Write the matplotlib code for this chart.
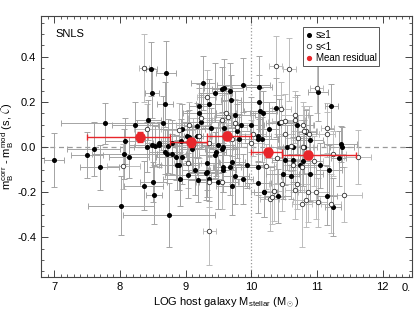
import matplotlib
matplotlib.use("Agg")
import matplotlib.pyplot as plt
from matplotlib.ticker import MultipleLocator

plt.rcParams['font.family'] = ['Liberation Sans', 'DejaVu Sans']
plt.rcParams['mathtext.fontset'] = 'custom'
plt.rcParams['mathtext.rm'] = 'Liberation Sans'
plt.rcParams['mathtext.it'] = 'Liberation Sans:italic'

# s >= 1 (filled)
hi_x = [8.48, 8.49, 8.70, 8.69, 7.78, 8.23, 8.43, 8.08, 7.60, 7.50,
        7.00, 8.07, 8.14, 8.49, 8.66, 8.59, 9.27, 9.21, 9.21, 9.36,
        9.58, 9.56, 9.68, 9.45, 9.88, 10.12, 9.69, 10.12, 10.37, 10.18,
        11.02, 11.22, 11.36, 11.38, 11.33, 9.76, 9.84, 10.00, 10.14, 9.23,
        9.17, 8.95, 9.38, 9.58, 9.50, 9.57, 8.80, 8.73, 8.53, 9.02,
        9.17, 9.05, 8.93, 10.10, 10.16, 10.27, 10.43, 10.70, 10.84, 10.90,
        10.55, 9.78, 10.11, 9.81, 7.69, 8.36, 8.51, 8.52, 8.02, 8.75,
        8.90, 8.91, 9.03, 9.14, 9.19, 9.31, 9.35, 10.10, 10.20, 10.41,
        10.60, 10.48, 10.90, 11.04, 11.18, 9.71, 9.76, 9.88, 9.50, 9.57,
        9.33, 9.93, 11.15, 11.25, 8.69, 8.72, 8.80, 8.85, 8.42, 8.59,
        9.32, 9.45, 9.46, 9.56, 9.68, 9.57, 9.71, 10.10, 10.52, 10.63,
        10.75, 10.79, 10.63, 10.80, 8.87, 9.10, 8.95, 10.19]
hi_y = [0.345, 0.24, 0.33, 0.19, 0.105, 0.10, 0.12, 0.027, -0.01, -0.035,
        -0.057, -0.03, -0.045, 0.01, 0.105, 0.017, 0.285, 0.15, 0.18, 0.19,
        0.26, 0.255, 0.25, 0.24, 0.275, 0.265, 0.21, 0.20, 0.175, 0.15,
        0.245, 0.18, 0.012, 0.0, -0.05, 0.14, 0.10, 0.10, 0.16, 0.11,
        0.095, 0.08, 0.085, 0.085, 0.01, 0.0, 0.02, 0.005, 0.005, 0.05,
        0.05, 0.045, 0.025, 0.05, 0.035, 0.08, 0.105, 0.10, 0.065, 0.03,
        0.0, 0.07, 0.035, 0.035, -0.09, -0.17, -0.155, -0.21, -0.26, -0.30,
        -0.08, -0.14, -0.125, -0.10, -0.145, -0.115, -0.14, -0.16, -0.20, -0.215,
        -0.13, -0.12, -0.12, -0.08, -0.10, -0.17, -0.13, -0.14, -0.155, -0.10,
        -0.11, -0.08, -0.215, -0.265, -0.02, -0.03, -0.03, -0.045, 0.0, 0.01,
        -0.07, -0.035, -0.02, -0.01, -0.09, -0.09, -0.065, -0.09, -0.057, -0.055,
        -0.08, -0.06, 0.0, 0.0, -0.08, -0.01, -0.045, -0.20]
hi_xerr = [0.08, 0.10, 0.15, 0.12, 0.68, 0.35, 0.20, 0.30, 0.40, 0.25,
           0.15, 0.50, 0.30, 0.35, 0.40, 0.20, 0.18, 0.25, 0.15, 0.20,
           0.30, 0.15, 0.20, 0.25, 0.40, 0.20, 0.15, 0.25, 0.10, 0.20,
           0.15, 0.10, 0.25, 0.18, 0.12, 0.30, 0.15, 0.20, 0.25, 0.30,
           0.20, 0.35, 0.15, 0.20, 0.25, 0.15, 0.30, 0.20, 0.15, 0.25,
           0.20, 0.15, 0.30, 0.20, 0.25, 0.15, 0.20, 0.25, 0.15, 0.20,
           0.25, 0.20, 0.30, 0.15, 0.30, 0.30, 0.20, 0.12, 0.50, 0.70,
           0.30, 0.25, 0.35, 0.20, 0.15, 0.25, 0.20, 0.20, 0.15, 0.20,
           0.15, 0.25, 0.20, 0.15, 0.20, 0.25, 0.20, 0.15, 0.30, 0.20,
           0.15, 0.25, 0.15, 0.12, 0.25, 0.15, 0.20, 0.30, 0.20, 0.15,
           0.20, 0.25, 0.15, 0.20, 0.25, 0.15, 0.20, 0.25, 0.20, 0.15,
           0.20, 0.25, 0.15, 0.20, 0.25, 0.20, 0.15, 0.20]
hi_yerr = [0.12, 0.11, 0.14, 0.10, 0.09, 0.10, 0.09, 0.10, 0.12, 0.10,
           0.12, 0.11, 0.09, 0.10, 0.12, 0.09, 0.12, 0.11, 0.10, 0.11,
           0.13, 0.10, 0.12, 0.13, 0.12, 0.14, 0.11, 0.12, 0.13, 0.10,
           0.13, 0.10, 0.08, 0.09, 0.12, 0.11, 0.10, 0.12, 0.10, 0.12,
           0.10, 0.11, 0.09, 0.12, 0.10, 0.11, 0.10, 0.12, 0.09, 0.11,
           0.10, 0.12, 0.10, 0.11, 0.10, 0.12, 0.11, 0.13, 0.10, 0.11,
           0.10, 0.12, 0.10, 0.11, 0.10, 0.11, 0.09, 0.13, 0.13, 0.14,
           0.11, 0.12, 0.10, 0.11, 0.10, 0.12, 0.10, 0.13, 0.11, 0.12,
           0.10, 0.11, 0.12, 0.10, 0.11, 0.13, 0.12, 0.11, 0.12, 0.10,
           0.11, 0.10, 0.13, 0.13, 0.10, 0.11, 0.09, 0.10, 0.11, 0.10,
           0.12, 0.10, 0.11, 0.10, 0.12, 0.11, 0.10, 0.12, 0.11, 0.10,
           0.12, 0.11, 0.10, 0.12, 0.11, 0.10, 0.12, 0.11]

# s < 1 (open)
lo_x = [8.37, 8.42, 8.90, 9.06, 9.32, 9.23, 10.37, 10.58, 11.00, 10.46,
        10.66, 10.67, 10.52, 10.84, 11.16, 11.15, 9.62, 9.65, 9.76, 9.78,
        10.03, 10.52, 10.45, 10.79, 10.80, 10.88, 10.72, 9.56, 9.21, 9.11,
        9.70, 9.99, 11.25, 11.62, 8.05, 9.03, 9.36, 10.28, 10.31, 10.34,
        10.47, 10.66, 10.69, 10.77, 10.84, 10.86, 10.98, 11.01, 11.21, 11.42,
        9.36, 9.56, 10.22, 10.40, 10.63, 10.78, 10.95, 9.36, 10.79, 10.60]
lo_y = [0.35, 0.08, 0.075, 0.10, 0.22, 0.13, 0.36, 0.345, 0.26, 0.17,
        0.14, 0.12, 0.115, 0.07, 0.083, 0.057, 0.15, 0.135, 0.105, 0.09,
        0.06, 0.06, 0.11, 0.10, 0.07, 0.06, 0.04, 0.12, 0.05, 0.01,
        0.035, 0.02, -0.03, -0.045, -0.085, -0.07, -0.37, -0.23, -0.22, -0.195,
        -0.165, -0.19, -0.163, -0.25, -0.235, -0.20, -0.20, -0.245, -0.25, -0.21,
        -0.155, -0.155, -0.085, -0.05, -0.08, -0.09, -0.06, 0.02, 0.0, 0.005]
lo_xerr = [0.08, 0.20, 0.25, 0.20, 0.15, 0.20, 0.10, 0.10, 0.10, 0.15,
           0.20, 0.15, 0.20, 0.15, 0.10, 0.12, 0.15, 0.20, 0.25, 0.15,
           0.20, 0.15, 0.20, 0.15, 0.20, 0.15, 0.20, 0.15, 0.20, 0.25,
           0.15, 0.20, 0.20, 0.20, 0.25, 0.20, 0.10, 0.15, 0.20, 0.15,
           0.20, 0.15, 0.20, 0.15, 0.20, 0.15, 0.20, 0.15, 0.15, 0.26,
           0.20, 0.25, 0.15, 0.20, 0.15, 0.20, 0.15, 0.20, 0.15, 0.20]
lo_yerr = [0.15, 0.11, 0.12, 0.10, 0.12, 0.11, 0.13, 0.14, 0.11, 0.12,
           0.11, 0.10, 0.12, 0.10, 0.11, 0.10, 0.12, 0.10, 0.11, 0.12,
           0.10, 0.11, 0.12, 0.10, 0.11, 0.12, 0.10, 0.11, 0.10, 0.12,
           0.11, 0.10, 0.10, 0.12, 0.10, 0.11, 0.15, 0.14, 0.12, 0.13,
           0.12, 0.13, 0.11, 0.19, 0.12, 0.13, 0.12, 0.11, 0.13, 0.12,
           0.11, 0.12, 0.10, 0.11, 0.12, 0.10, 0.11, 0.10, 0.12, 0.11]

# mean residual per mass bin
mean_x = [8.30, 9.08, 9.63, 10.26, 10.86]
mean_y = [0.044, 0.022, 0.048, -0.022, -0.036]
bin_lo = [7.50, 8.76, 9.33, 10.00, 10.47]
bin_hi = [8.76, 9.33, 10.00, 10.47, 11.60]
mean_err = [0.022, 0.020, 0.018, 0.020, 0.018]

fig = plt.figure(figsize=(4.15, 3.21), dpi=100)
ax = fig.add_axes([0.099, 0.137, 0.894, 0.813])

ax.axhline(0, color='#999999', ls=(0, (4, 3)), lw=0.9, zorder=0)
ax.axvline(10, color='#999999', ls=':', lw=0.9, zorder=0)

ax.errorbar(lo_x, lo_y, xerr=lo_xerr, yerr=lo_yerr, fmt='none',
            ecolor='#bcbcbc', elinewidth=0.7, capsize=2, capthick=0.7, zorder=1)
ax.errorbar(hi_x, hi_y, xerr=hi_xerr, yerr=hi_yerr, fmt='none',
            ecolor='#a4a4a4', elinewidth=0.7, capsize=2, capthick=0.7, zorder=1)
ax.plot(hi_x, hi_y, 'o', color='black', ms=2.6, zorder=3, label='s\u22651')
ax.plot(lo_x, lo_y, 'o', mfc='white', mec='#333333', mew=0.6, ms=3.2,
        zorder=3, label='s<1')

xl = [m - a for m, a in zip(mean_x, bin_lo)]
xh = [b - m for m, b in zip(mean_x, bin_hi)]
ax.errorbar(mean_x, mean_y, xerr=[xl, xh], yerr=mean_err, fmt='none',
            ecolor='#e8262b', elinewidth=1.0, capsize=2, capthick=1.0, zorder=4)
ax.plot(mean_x, mean_y, 'o', color='#e8262b', ms=6.5, zorder=5)
ax.plot([], [], 'o', color='#e8262b', ms=2.8, label='Mean residual')

ax.set_xlim(6.8, 12.45)
ax.set_ylim(-0.575, 0.58)
ax.xaxis.set_major_locator(MultipleLocator(1))
ax.xaxis.set_minor_locator(MultipleLocator(0.1))
ax.yaxis.set_major_locator(MultipleLocator(0.2))
ax.yaxis.set_minor_locator(MultipleLocator(0.05))
ax.yaxis.set_major_formatter(plt.FormatStrFormatter('%.1f'))
ax.tick_params(which='both', direction='in', top=True, right=True,
               labelsize=8, color='#444444')
ax.tick_params(which='major', length=5, width=0.7)
ax.tick_params(which='minor', length=2.5, width=0.6)
for s in ax.spines.values():
    s.set_color('#444444')
    s.set_linewidth(0.8)

ax.set_xlabel(r'LOG host galaxy M$_{\rm stellar}$ (M$_\odot$)', fontsize=8, labelpad=3)
ax.set_ylabel(r'm$_{\rm B}^{\rm corr}$ - m$_{\rm B}^{\rm mod}$ (s, $\mathcal{C}$)',
              fontsize=8, labelpad=1)
ax.text(0.04, 0.95, 'SNLS', transform=ax.transAxes, fontsize=8, va='top')
fig.text(0.978, 0.103, '0.', fontsize=8, ha='center', va='center')

leg = ax.legend(loc='upper right', bbox_to_anchor=(0.925, 0.975), fontsize=7,
                handlelength=0.6, handletextpad=0.4, borderpad=0.3,
                labelspacing=0.15, fancybox=False, framealpha=1,
                edgecolor='#555555')
leg.get_frame().set_linewidth(0.7)

fig.savefig('out.png', dpi=100)
